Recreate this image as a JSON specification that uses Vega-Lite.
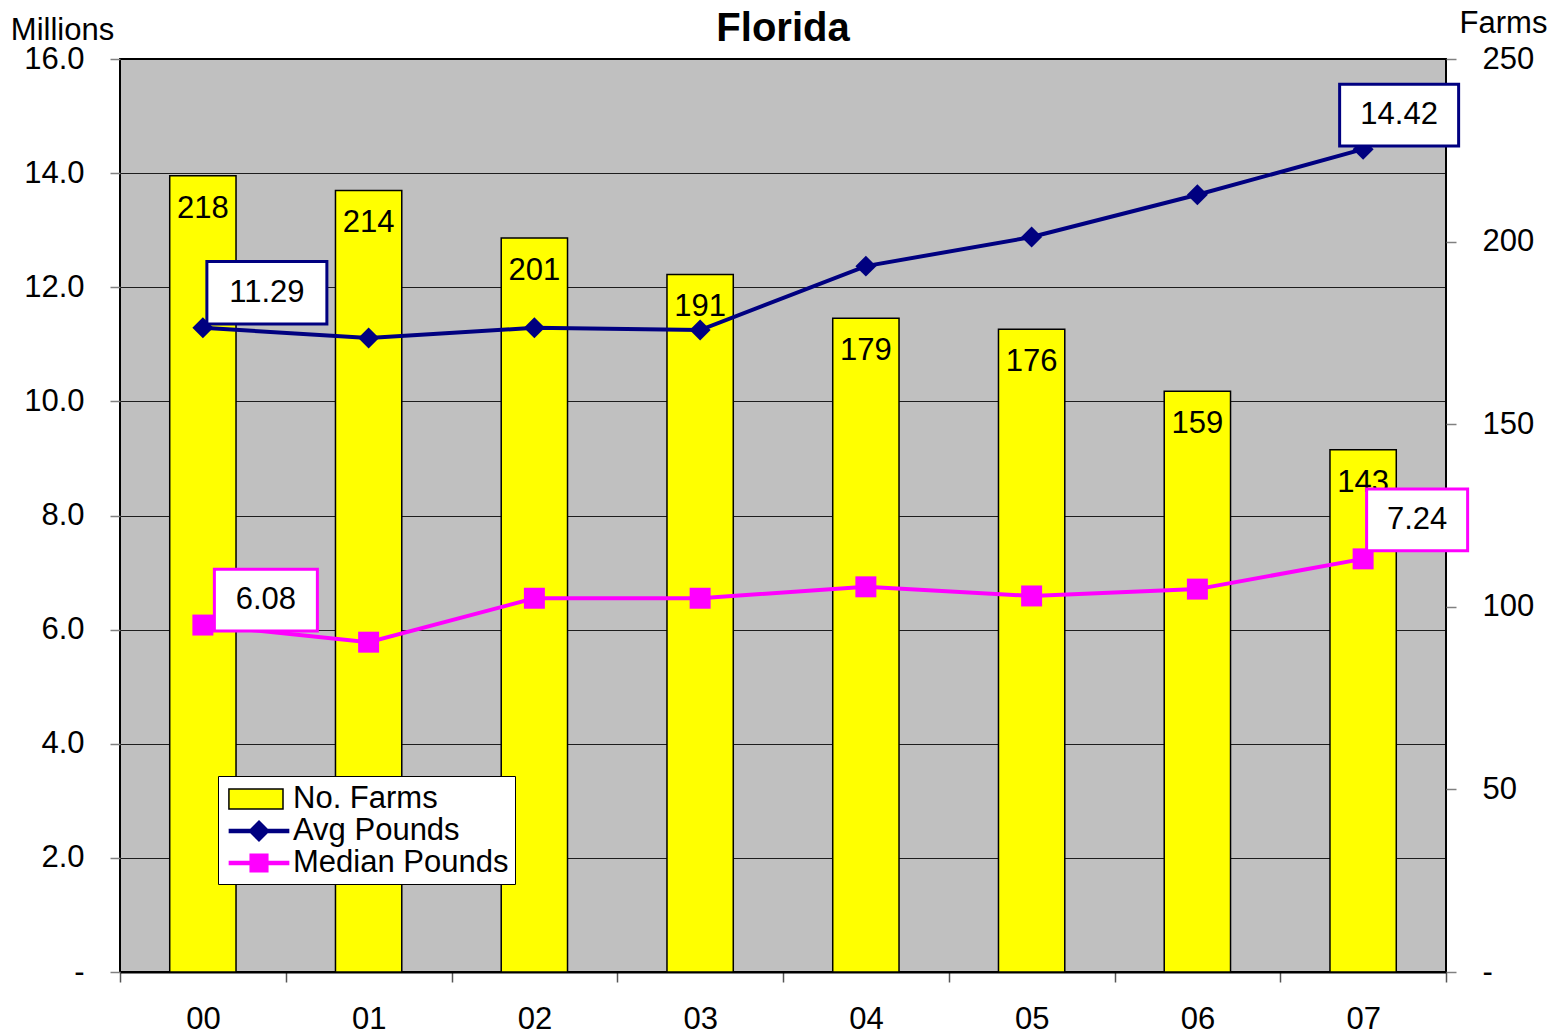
{
  "$schema": "https://vega.github.io/schema/vega-lite/v6.json",
  "width": 1326,
  "height": 913,
  "autosize": {"type": "none"},
  "padding": {"left": 120, "top": 59, "right": 108, "bottom": 62},
  "background": "white",
  "title": {"text": "Florida", "fontSize": 40, "font": "Liberation Sans", "fontWeight": "bold", "color": "black", "anchor": "middle", "frame": "group", "baseline": "alphabetic", "offset": -74},
  "data": {
    "values": [
      {"year": "00", "farms": 218, "Avg Pounds": 11.29, "Median Pounds": 6.08},
      {"year": "01", "farms": 214, "Avg Pounds": 11.11, "Median Pounds": 5.78},
      {"year": "02", "farms": 201, "Avg Pounds": 11.29, "Median Pounds": 6.55},
      {"year": "03", "farms": 191, "Avg Pounds": 11.25, "Median Pounds": 6.55},
      {"year": "04", "farms": 179, "Avg Pounds": 12.37, "Median Pounds": 6.75},
      {"year": "05", "farms": 176, "Avg Pounds": 12.88, "Median Pounds": 6.59},
      {"year": "06", "farms": 159, "Avg Pounds": 13.62, "Median Pounds": 6.71},
      {"year": "07", "farms": 143, "Avg Pounds": 14.42, "Median Pounds": 7.24}
    ]
  },
  "encoding": {
    "x": {
      "field": "year", "type": "ordinal",
      "scale": {"paddingInner": 0, "paddingOuter": 0},
      "axis": {"title": null, "labelAngle": 0, "tickBand": "extent", "tickSize": 10, "tickColor": "#555555", "tickWidth": 1.5, "labelPadding": 22, "domainColor": "black", "domainWidth": 2, "grid": false}
    }
  },
  "layer": [
    {
      "encoding": {
        "y": {
          "field": "farms", "type": "quantitative",
          "scale": {"domain": [0, 250], "nice": false},
          "axis": {"orient": "right", "values": [0, 50, 100, 150, 200, 250], "labelExpr": "datum.value == 0 ? '-' : format(datum.value, 'd')", "title": "Farms", "titleAngle": 0, "titleX": 57, "titleY": -27, "titleAlign": "center", "titleBaseline": "alphabetic", "grid": false, "tickSize": 10, "labelPadding": 26, "labelAlign": "left", "domain": false}
        }
      },
      "layer": [
        {
          "mark": {"type": "bar", "fill": "#FFFF00", "stroke": "black", "strokeWidth": 1.5, "opacity": 1, "width": {"band": 0.4}}
        },
        {
          "mark": {"type": "text", "baseline": "middle", "dy": 33, "fontSize": 31, "font": "Liberation Sans", "color": "black"},
          "encoding": {"text": {"field": "farms", "type": "quantitative"}}
        },
        {
          "transform": [{"fold": ["Avg Pounds", "Median Pounds"], "as": ["series", "value"]}],
          "mark": {"type": "point", "filled": true, "opacity": 0},
          "encoding": {
            "color": {
              "field": "series", "type": "nominal",
              "scale": {"domain": ["No. Farms", "Avg Pounds", "Median Pounds"], "range": ["#FFFF00", "#000080", "#FF00FF"]},
              "legend": {
                "title": null, "orient": "none", "legendX": 98, "legendY": 717, "padding": 6,
                "fillColor": "white", "strokeColor": "black",
                "labelFontSize": 31, "labelFont": "Liberation Sans", "labelColor": "black", "labelLimit": 400,
                "labelOffset": 17, "symbolOffset": 18, "symbolSize": 1024, "rowPadding": 0,
                "symbolOpacity": 1, "symbolStrokeWidth": 1.5
              }
            },
            "shape": {
              "field": "series", "type": "nominal",
              "scale": {"domain": ["No. Farms", "Avg Pounds", "Median Pounds"], "range": ["M-1.88,-0.62H1.5V0.62H-1.88Z", "M-1.85,-0.1H1.85V0.1H-1.85ZM0,-0.62L0.62,0L0,0.62L-0.62,0Z", "M-1.85,-0.1H1.85V0.1H-1.85ZM-0.55,-0.55H0.55V0.55H-0.55Z"]}
            },
            "stroke": {
              "field": "series", "type": "nominal",
              "scale": {"domain": ["No. Farms", "Avg Pounds", "Median Pounds"], "range": ["#000000", "#000080", "#FF00FF"]}
            }
          }
        }
      ]
    },
    {
      "transform": [{"fold": ["Avg Pounds", "Median Pounds"], "as": ["series", "value"]}],
      "encoding": {
        "y": {
          "field": "value", "type": "quantitative",
          "scale": {"domain": [0, 16], "nice": false},
          "axis": {"orient": "left", "values": [0, 2, 4, 6, 8, 10, 12, 14, 16], "labelExpr": "datum.value == 0 ? '-' : format(datum.value, '.1f')", "title": "Millions", "titleAngle": 0, "titleX": -58, "titleY": -20, "titleAlign": "center", "titleBaseline": "alphabetic", "grid": true, "gridColor": "black", "gridWidth": 1, "gridOpacity": 0.85, "tickSize": 10, "labelPadding": 26, "domain": false}
        }
      },
      "layer": [
        {
          "mark": {"type": "line", "strokeWidth": 4},
          "encoding": {
            "color": {"field": "series", "type": "nominal", "scale": {"domain": ["Avg Pounds", "Median Pounds"], "range": ["#000080", "#FF00FF"]}, "legend": null}
          }
        },
        {
          "mark": {"type": "point", "filled": true, "opacity": 1, "size": 440},
          "encoding": {
            "color": {"field": "series", "type": "nominal", "legend": null},
            "shape": {"field": "series", "type": "nominal", "scale": {"domain": ["Avg Pounds", "Median Pounds"], "range": ["diamond", "square"]}, "legend": null}
          }
        },
        {
          "transform": [{"filter": "datum.series == 'Avg Pounds' && datum.year == '00'"}],
          "mark": {"type": "point", "shape": "M-1,-0.52H1V0.52H-1Z", "size": 14400, "filled": true, "fill": "white", "stroke": "#000080", "strokeWidth": 3, "opacity": 1, "xOffset": 64, "yOffset": -35}
        },
        {
          "transform": [{"filter": "datum.series == 'Avg Pounds' && datum.year == '00'"}],
          "mark": {"type": "text", "dx": 64, "dy": -35, "fontSize": 31, "font": "Liberation Sans", "color": "black", "baseline": "middle"},
          "encoding": {"text": {"field": "value", "type": "quantitative", "format": ".2f"}}
        },
        {
          "transform": [{"filter": "datum.series == 'Avg Pounds' && datum.year == '07'"}],
          "mark": {"type": "point", "shape": "M-1,-0.52H1V0.52H-1Z", "size": 14161, "filled": true, "fill": "white", "stroke": "#000080", "strokeWidth": 3, "opacity": 1, "xOffset": 36, "yOffset": -34}
        },
        {
          "transform": [{"filter": "datum.series == 'Avg Pounds' && datum.year == '07'"}],
          "mark": {"type": "text", "dx": 36, "dy": -34, "fontSize": 31, "font": "Liberation Sans", "color": "black", "baseline": "middle"},
          "encoding": {"text": {"field": "value", "type": "quantitative", "format": ".2f"}}
        },
        {
          "transform": [{"filter": "datum.series == 'Median Pounds' && datum.year == '00'"}],
          "mark": {"type": "point", "shape": "M-1,-0.6H1V0.6H-1Z", "size": 10609, "filled": true, "fill": "white", "stroke": "#FF00FF", "strokeWidth": 3, "opacity": 1, "xOffset": 63, "yOffset": -25}
        },
        {
          "transform": [{"filter": "datum.series == 'Median Pounds' && datum.year == '00'"}],
          "mark": {"type": "text", "dx": 63, "dy": -25, "fontSize": 31, "font": "Liberation Sans", "color": "black", "baseline": "middle"},
          "encoding": {"text": {"field": "value", "type": "quantitative", "format": ".2f"}}
        },
        {
          "transform": [{"filter": "datum.series == 'Median Pounds' && datum.year == '07'"}],
          "mark": {"type": "point", "shape": "M-1,-0.61H1V0.61H-1Z", "size": 10201, "filled": true, "fill": "white", "stroke": "#FF00FF", "strokeWidth": 3, "opacity": 1, "xOffset": 54, "yOffset": -39}
        },
        {
          "transform": [{"filter": "datum.series == 'Median Pounds' && datum.year == '07'"}],
          "mark": {"type": "text", "dx": 54, "dy": -39, "fontSize": 31, "font": "Liberation Sans", "color": "black", "baseline": "middle"},
          "encoding": {"text": {"field": "value", "type": "quantitative", "format": ".2f"}}
        }
      ]
    }
  ],
  "resolve": {"scale": {"y": "independent", "color": "independent", "shape": "independent", "stroke": "independent"}},
  "config": {
    "font": "Liberation Sans",
    "view": {"stroke": "black", "strokeWidth": 2, "fill": "#C0C0C0"},
    "legend": {"symbolOpacity": 1, "symbolStrokeWidth": 1.5},
    "axis": {"labelFont": "Liberation Sans", "labelFontSize": 31, "labelColor": "black", "titleFont": "Liberation Sans", "titleFontSize": 31, "titleFontWeight": "normal", "titleColor": "black", "tickColor": "#808080", "tickWidth": 1.5, "domainColor": "black"}
  }
}
